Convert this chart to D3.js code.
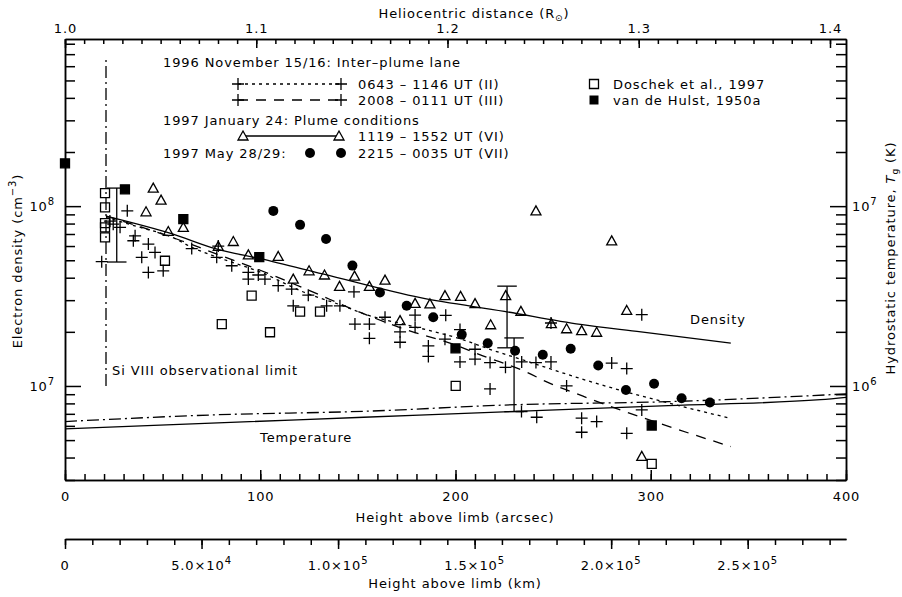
<!DOCTYPE html>
<html>
<head>
<meta charset="utf-8">
<script src="https://cdn.jsdelivr.net/npm/d3@7"></script>
<style>
  body { margin: 0; background: #fff; }
  text { font-family: "DejaVu Sans", sans-serif; font-size: 13px; letter-spacing: 0.9px; fill: #000; }
  .axis path, .axis line { stroke: #000; stroke-width: 1.5; }
</style>
</head>
<body>
<div id="chart"></div>
<script>
// ---- data: [height (arcsec), electron density (cm^-3)] ----
const crosses = [
  [18.8,4.91e7],[23.0,8.26e7],[24.7,7.94e7],[28.2,7.62e7],[31.9,9.42e7],[35.0,6.42e7],[35.9,6.84e7],
  [39.3,5.19e7],[42.7,6.15e7],[42.7,4.28e7],[46.1,5.53e7],[50.3,4.37e7],[64.9,5.81e7],[77.7,5.19e7],
  [78.5,6.0e7],[85.4,4.66e7],[93.9,4.28e7],[93.9,3.93e7],[99.0,4.14e7],[102.4,3.93e7],[109.2,3.61e7],
  [116.1,3.46e7],[116.9,2.79e7],[124.6,3.2e7],[134.0,2.79e7],[140.8,2.79e7],[148.0,3.34e7],[148.5,2.21e7],
  [155.9,2.21e7],[155.9,1.84e7],[163.9,2.41e7],[171.6,2.0e7],[171.6,1.75e7],[179.3,2.48e7],[179.3,2.12e7],
  [186.1,1.67e7],[186.1,1.46e7],[195.0,2.47e7],[194.6,1.82e7],[202.3,2.06e7],[202.3,1.36e7],[210.0,1.6e7],
  [210.0,1.41e7],[217.7,1.35e7],[217.7,9.63e6],[225.6,1.27e7],[233.9,1.36e7],[241.2,1.35e7],[248.9,1.36e7],
  [248.9,2.24e7],[256.9,1.0e7],[233.8,7.21e6],[241.6,6.7e6],[264.6,6.62e6],[264.6,5.53e6],[272.3,6.34e6],
  [280.0,1.34e7],[287.7,1.25e7],[287.7,5.45e6],[295.4,2.49e7],[295.4,7.36e6]
];
const triangles = [
  [41.5,9.3e7],[45.2,1.26e8],[49.2,1.08e8],[52.9,7.23e7],[60.6,7.62e7],[78.5,5.97e7],[86.2,6.36e7],
  [93.9,5.36e7],[109.2,5.25e7],[116.9,3.93e7],[125.0,4.37e7],[132.9,4.14e7],[140.6,3.58e7],[148.3,4.08e7],
  [155.9,3.58e7],[163.9,3.88e7],[171.6,2.31e7],[179.3,2.88e7],[186.9,2.86e7],[194.6,3.18e7],[202.6,3.15e7],
  [210.0,2.87e7],[218.0,2.19e7],[225.7,3.18e7],[233.5,2.6e7],[241.2,9.41e7],[249.1,2.22e7],[256.9,2.08e7],
  [264.6,2.03e7],[272.3,1.99e7],[280.0,6.41e7],[287.7,2.63e7],[295.4,4.06e6]
];
const circles = [
  [106.7,9.41e7],[120.4,7.87e7],[133.7,6.56e7],[147.2,4.67e7],[161.3,3.31e7],[175.0,2.79e7],[188.6,2.41e7],
  [203.2,1.93e7],[216.5,1.73e7],[230.5,1.57e7],[244.7,1.49e7],[259.0,1.61e7],[273.1,1.3e7],[287.3,9.5e6],
  [301.7,1.03e7],[315.8,8.55e6],[330.3,8.1e6]
];
const doschek = [
  [20.5,1.18e8],[20.5,9.84e7],[20.5,8.05e7],[20.5,7.62e7],[20.5,6.7e7],[51.2,4.97e7],[80.3,2.21e7],
  [95.6,3.18e7],[105.0,1.99e7],[120.4,2.59e7],[130.6,2.59e7],[200.1,1.0e7],[300.5,3.69e6]
];
const vandehulst = [[0,1.73e8],[30.7,1.24e8],[60.6,8.47e7],[99.5,5.2e7],[200,1.62e7],[300.5,6.03e6]];
const errorBars = [[26.5,4.89e7,1.26e8],[226.4,1.63e7,3.59e7],[230,7.2e6,1.85e7]];

// model curves
const densityFit = [[21,8.8e7],[55,7.0e7],[77,5.8e7],[100,5.1e7],[132,4.2e7],[182,3.1e7],[225,2.6e7],[264,2.2e7],[295,2.0e7],[341,1.73e7]];
const fitII = [[21,8.65e7],[37,7.7e7],[55,6.7e7],[65,5.9e7],[78,5.2e7],[100,4.3e7],[123,3.3e7],[140,2.85e7],[154,2.5e7],[180,2.12e7],[203,1.82e7],[219,1.58e7],[236,1.38e7],[251,1.22e7],[264,1.1e7],[341,6.6e6]];
const fitIII = [[21,8.8e7],[40,7.6e7],[60,6.4e7],[80,5.3e7],[100,4.4e7],[125,3.4e7],[150,2.6e7],[175,2.05e7],[198,1.72e7],[214,1.47e7],[236,1.2e7],[247,1.05e7],[265,8.8e6],[341,4.6e6]];
// hydrostatic temperature (K)
const tempSolid = [[0,5.77e5],[75,6.21e5],[153,6.7e5],[231,7.23e5],[309,7.78e5],[387,8.39e5],[400,8.65e5]];
const tempDashDot = [[0,6.34e5],[75,6.9e5],[153,7.23e5],[231,7.87e5],[309,8.18e5],[400,9.03e5]];
const siLimit = [21, 1e7, 6.7e8];

const arcTicks = [0,100,200,300,400];
const rTicks = [1.0,1.1,1.2,1.3,1.4];
const kmTicks = [[0,'0',null],[5e4,'5.0\u00d710','4'],[1e5,'1.0\u00d710','5'],[1.5e5,'1.5\u00d710','5'],[2e5,'2.0\u00d710','5'],[2.5e5,'2.5\u00d710','5']];

const width = 902, height = 597;
const svg = d3.select('#chart').append('svg').attr('width', width).attr('height', height);

// scales
const x = d3.scaleLinear().domain([0,400]).range([65,846]);
const y = d3.scaleLog().domain([3e6,8.5e8]).range([480,39]);
const yT = d3.scaleLog().domain([3e5,8.5e7]).range([480,39]);
const xR = d3.scaleLinear().domain([1, 1 + 400/979.5]).range([65,846]);
const xKm = d3.scaleLinear().domain([0, 2.86e5]).range([65,846]);

function logMinor(lo, hi){
  const out = [];
  for (let e = Math.floor(Math.log10(lo)); e <= Math.ceil(Math.log10(hi)); e++)
    for (let m = 2; m <= 9; m++){ const v = m*Math.pow(10,e); if (v>=lo && v<=hi) out.push(v); }
  return out;
}

// ---- axes ----
const g = svg.append('g');
// bottom (arcsec)
g.append('g').attr('class','axis').attr('transform','translate(0,480)')
  .call(d3.axisBottom(x).tickValues(d3.range(0,401,10)).tickSize(-6).tickSizeOuter(0).tickFormat(''));
g.append('g').attr('class','axis').attr('transform','translate(0,480)')
  .call(d3.axisBottom(x).tickValues(arcTicks).tickSize(-10).tickSizeOuter(0).tickPadding(12).tickFormat(d3.format('d')));
// top (heliocentric)
g.append('g').attr('class','axis').attr('transform','translate(0,39)')
  .call(d3.axisTop(xR).tickValues(d3.range(100,141).map(d=>d/100)).tickSize(-5).tickSizeOuter(0).tickFormat(''));
g.append('g').attr('class','axis').attr('transform','translate(0,39)')
  .call(d3.axisTop(xR).tickValues(rTicks).tickSize(-9).tickSizeOuter(0).tickPadding(6).tickFormat(d3.format('.1f')));
// left density
g.append('g').attr('class','axis').attr('transform','translate(65,0)')
  .call(d3.axisLeft(y).tickValues(logMinor(3e6,8.5e8)).tickSize(-10).tickSizeOuter(0).tickFormat(''));
g.append('g').attr('class','axis').attr('transform','translate(65,0)')
  .call(d3.axisLeft(y).tickValues([1e7,1e8]).tickSize(-16).tickSizeOuter(0).tickFormat(''));
// right temperature
g.append('g').attr('class','axis').attr('transform','translate(846,0)')
  .call(d3.axisRight(yT).tickValues(logMinor(3e5,8.5e7)).tickSize(-10).tickSizeOuter(0).tickFormat(''));
g.append('g').attr('class','axis').attr('transform','translate(846,0)')
  .call(d3.axisRight(yT).tickValues([1e6,1e7]).tickSize(-16).tickSizeOuter(0).tickFormat(''));
// km axis
g.append('g').attr('class','axis').attr('transform','translate(0,539)')
  .call(d3.axisBottom(xKm).tickValues(d3.range(0,2.86e5,1e4)).tickSize(6).tickSizeOuter(0).tickFormat(''));
g.append('g').attr('class','axis').attr('transform','translate(0,539)')
  .call(d3.axisBottom(xKm).tickValues(kmTicks.map(d=>d[0])).tickSize(10).tickSizeOuter(0).tickFormat(''));
g.selectAll('.axis text').style('font-size','13px');

function sup(sel, base, exp){
  sel.append('tspan').text(base);
  if (exp) sel.append('tspan').attr('dy',-6).style('font-size','10px').text(exp);
}
// log labels
[[1e8,'8'],[1e7,'7']].forEach(d => {
  const t = svg.append('text').attr('x',55).attr('y',y(d[0])+5).attr('text-anchor','end');
  sup(t,'10',d[1]);
});
[[1e7,'7'],[1e6,'6']].forEach(d => {
  const t = svg.append('text').attr('x',852).attr('y',yT(d[0])+5);
  sup(t,'10',d[1]);
});
kmTicks.forEach(d => {
  const t = svg.append('text').attr('x',xKm(d[0])).attr('y',570).attr('text-anchor','middle');
  sup(t,d[1],d[2]);
});

// titles
const tt = svg.append('text').attr('x',474).attr('y',18).attr('text-anchor','middle');
tt.append('tspan').text('Heliocentric distance (R');
tt.append('tspan').attr('dy',3).style('font-size','9px').text('\u2299');
tt.append('tspan').attr('dy',-3).text(')');
svg.append('text').attr('x',455).attr('y',522).attr('text-anchor','middle').text('Height above limb (arcsec)');
svg.append('text').attr('x',455).attr('y',588).attr('text-anchor','middle').text('Height above limb (km)');
const ly = svg.append('text').attr('transform','translate(22,261) rotate(-90)').attr('text-anchor','middle');
ly.append('tspan').text('Electron density (cm');
ly.append('tspan').attr('dy',-6).style('font-size','10px').text('\u22123');
ly.append('tspan').attr('dy',6).text(')');
const ry = svg.append('text').attr('transform','translate(895,258) rotate(-90)').attr('text-anchor','middle');
ry.append('tspan').text('Hydrostatic temperature, ');
ry.append('tspan').style('font-style','italic').text('T');
ry.append('tspan').attr('dy',3).style('font-size','9px').text('g');
ry.append('tspan').attr('dy',-3).text(' (K)');

// ---- curves ----
const plot = svg.append('g');
const lineN = d3.line().x(d => x(d[0])).y(d => y(d[1])).curve(d3.curveMonotoneX);
const lineT = d3.line().x(d => x(d[0])).y(d => yT(d[1])).curve(d3.curveMonotoneX);
plot.append('path').datum(densityFit).attr('d',lineN).attr('fill','none').attr('stroke','#000').attr('stroke-width',1.3);
plot.append('path').datum(fitII).attr('d',lineN).attr('fill','none').attr('stroke','#000').attr('stroke-width',1.3).attr('stroke-dasharray','3,4');
plot.append('path').datum(fitIII).attr('d',lineN).attr('fill','none').attr('stroke','#000').attr('stroke-width',1.3).attr('stroke-dasharray','10,8');
plot.append('path').datum(tempSolid).attr('d',lineT).attr('fill','none').attr('stroke','#000').attr('stroke-width',1.3);
plot.append('path').datum(tempDashDot).attr('d',lineT).attr('fill','none').attr('stroke','#000').attr('stroke-width',1.3).attr('stroke-dasharray','12,4,2,4');
plot.append('line').attr('x1',x(siLimit[0])).attr('x2',x(siLimit[0])).attr('y1',y(siLimit[1])).attr('y2',y(siLimit[2]))
  .attr('stroke','#000').attr('stroke-width',1.3).attr('stroke-dasharray','12,4,2,4');

// error bars
const capW = 5;
errorBars.forEach(d => {
  const eb = plot.append('g').attr('stroke','#000').attr('stroke-width',1.3);
  eb.append('line').attr('x1',x(d[0])).attr('x2',x(d[0])).attr('y1',y(d[1])).attr('y2',y(d[2]));
  eb.append('line').attr('x1',x(d[0]-capW)).attr('x2',x(d[0]+capW)).attr('y1',y(d[1])).attr('y2',y(d[1]));
  eb.append('line').attr('x1',x(d[0]-capW)).attr('x2',x(d[0]+capW)).attr('y1',y(d[2])).attr('y2',y(d[2]));
});

// ---- markers ----
const sym = {
  cross: 'M-6,0H6M0,-6V6',
  tri: 'M0,-5L5,4L-5,4Z',
  sq: 'M-4.5,-4.5H4.5V4.5H-4.5Z'
};
function markers(data, path, fill){
  plot.append('g').selectAll('path').data(data).join('path')
    .attr('transform', d => `translate(${x(d[0])},${y(d[1])})`)
    .attr('d', path).attr('fill', fill).attr('stroke','#000').attr('stroke-width',1.3);
}
markers(crosses, sym.cross, 'none');
markers(triangles, sym.tri, 'none');
markers(doschek, sym.sq, 'none');
markers(vandehulst, sym.sq, '#000');
plot.append('g').selectAll('circle').data(circles).join('circle')
  .attr('cx', d => x(d[0])).attr('cy', d => y(d[1])).attr('r',5).attr('fill','#000');

// ---- in-plot labels ----
svg.append('text').attr('x',690).attr('y',324).text('Density');
svg.append('text').attr('x',260).attr('y',442).text('Temperature');
svg.append('text').attr('x',112).attr('y',375).text('Si VIII observational limit');

// ---- legend ----
const leg = svg.append('g');
const legText = [
  [163,67,'1996 November 15/16: Inter\u2013plume lane'],
  [358,89,'0643 \u2013 1146 UT (II)'],
  [358,105,'2008 \u2013 0111 UT (III)'],
  [163,125,'1997 January 24: Plume conditions'],
  [358,141,'1119 \u2013 1552 UT (VI)'],
  [163,158,'1997 May 28/29:'],
  [358,158,'2215 \u2013 0035 UT (VII)'],
  [613,89,'Doschek et al., 1997'],
  [613,105,'van de Hulst, 1950a']
];
leg.selectAll('text').data(legText).join('text').attr('x',d=>d[0]).attr('y',d=>d[1]).text(d=>d[2]);
const ls = leg.append('g').attr('stroke','#000').attr('stroke-width',1.3).attr('fill','none');
ls.append('line').attr('x1',238).attr('x2',341).attr('y1',84).attr('y2',84).attr('stroke-dasharray','3,4');
ls.append('line').attr('x1',238).attr('x2',341).attr('y1',100).attr('y2',100).attr('stroke-dasharray','10,8');
ls.append('line').attr('x1',243).attr('x2',339).attr('y1',136).attr('y2',136);
[[238,84],[341,84],[238,100],[341,100]].forEach(p => ls.append('path').attr('d',sym.cross).attr('transform',`translate(${p})`));
[[243,136],[339,136]].forEach(p => ls.append('path').attr('d',sym.tri).attr('fill','#fff').attr('transform',`translate(${p})`));
[[310,153],[341,153]].forEach(p => leg.append('circle').attr('cx',p[0]).attr('cy',p[1]).attr('r',5).attr('fill','#000'));
ls.append('path').attr('d',sym.sq).attr('transform','translate(594,84)');
leg.append('path').attr('d',sym.sq).attr('fill','#000').attr('transform','translate(594,100)');
</script>
</body>
</html>
